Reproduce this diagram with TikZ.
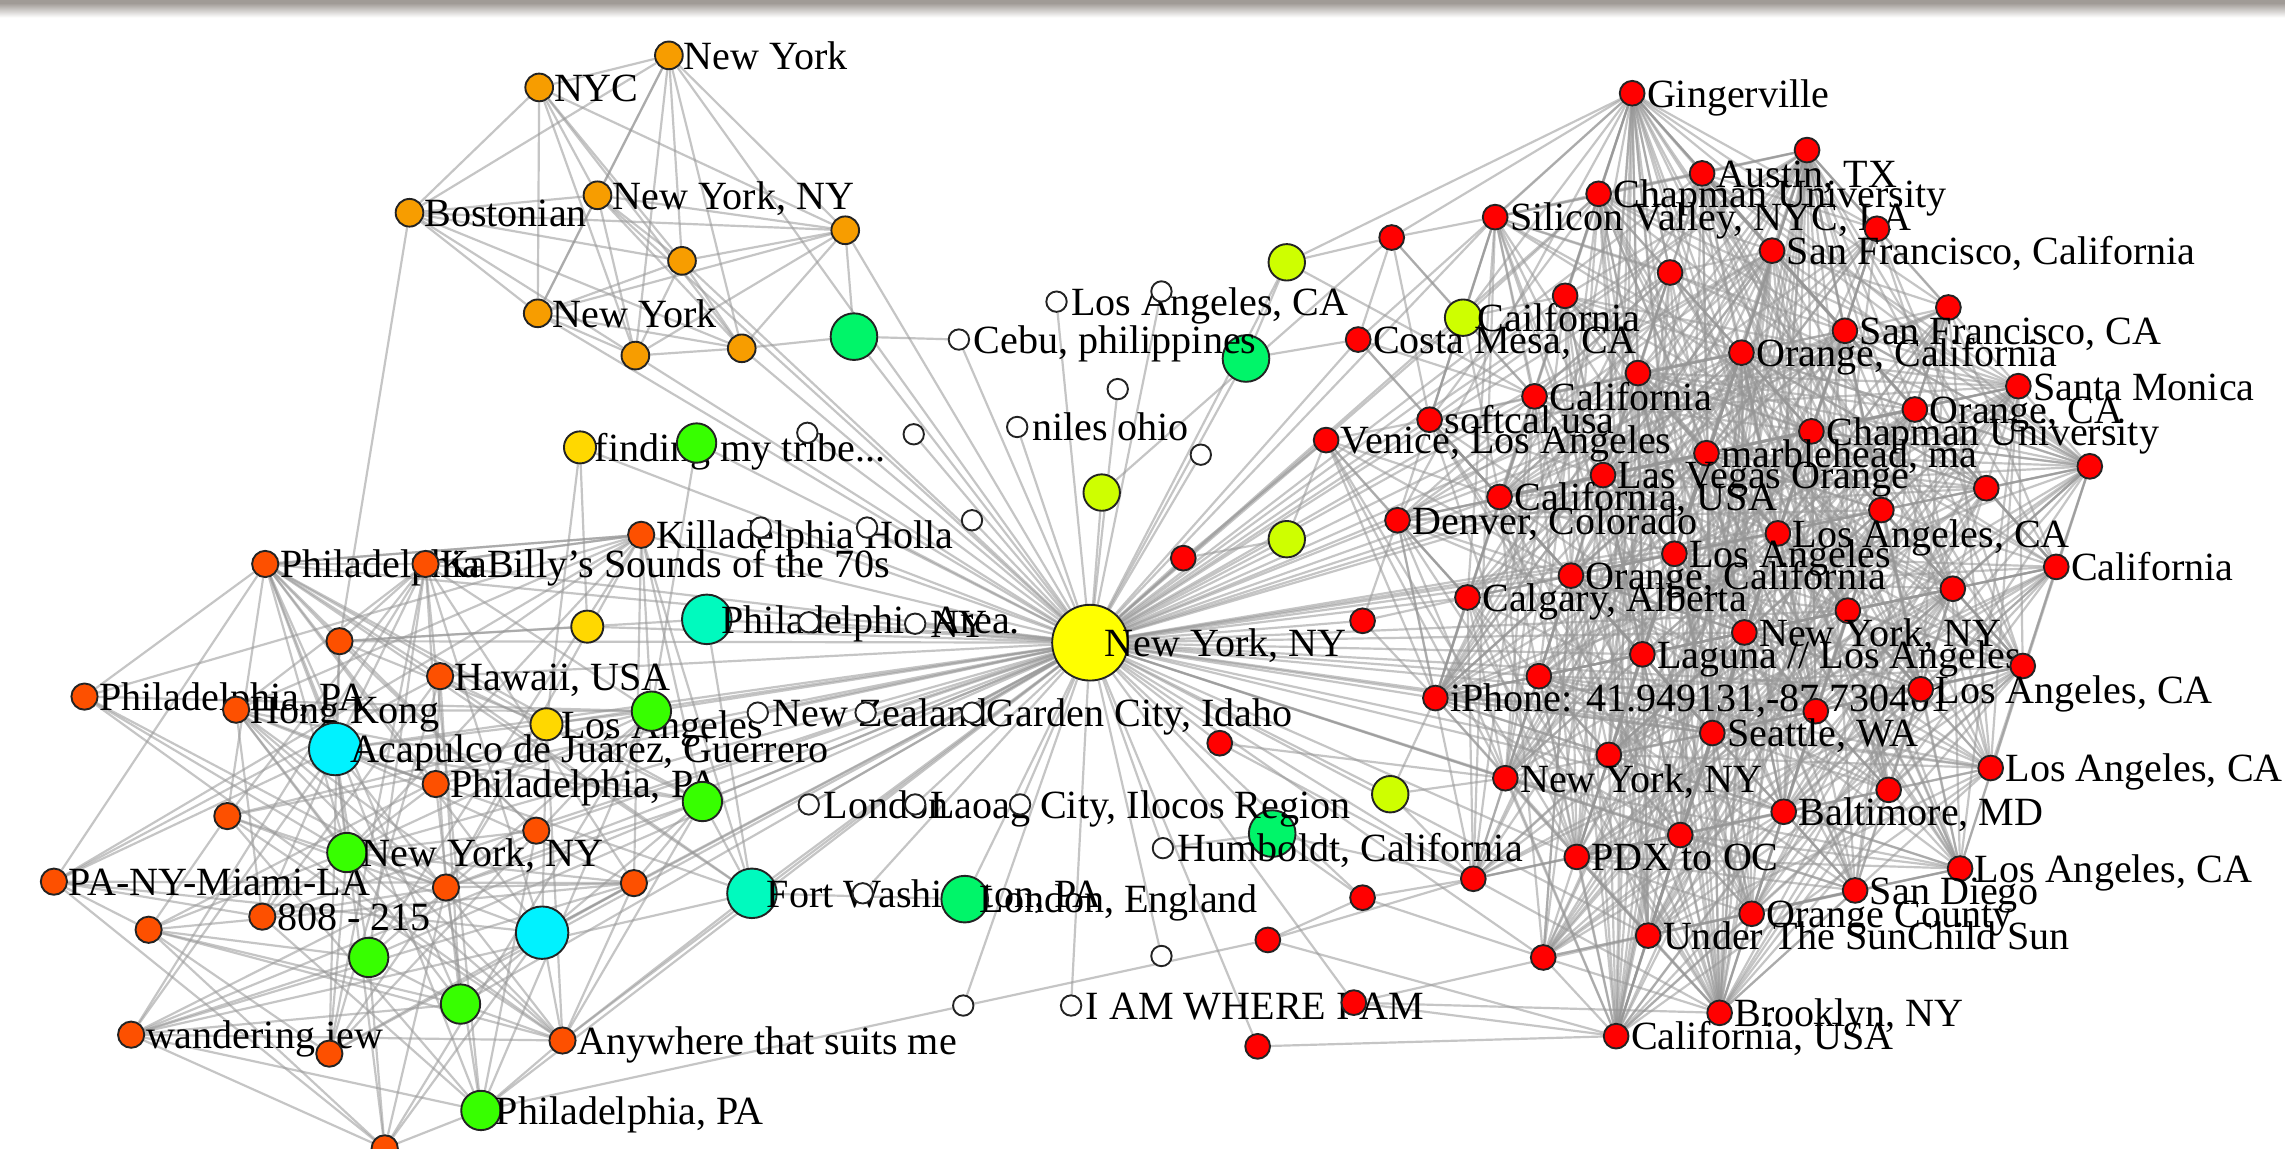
\documentclass[tikz,border=0pt]{standalone}
\usepackage{fontspec}
\setmainfont{Liberation Serif}
\pgfdeclarelayer{bg}
\pgfsetlayers{bg,main}
\definecolor{cRed}{RGB}{255,0,0}
\definecolor{cOrRed}{RGB}{253,80,0}
\definecolor{cOrange}{RGB}{247,157,0}
\definecolor{cYel}{RGB}{255,216,0}
\definecolor{cHub}{RGB}{255,255,0}
\definecolor{cYG}{RGB}{206,255,0}
\definecolor{cGreen}{RGB}{55,255,0}
\definecolor{cSpring}{RGB}{0,245,105}
\definecolor{cAqua}{RGB}{0,250,190}
\definecolor{cCyan}{RGB}{0,242,255}
\definecolor{cBorder}{RGB}{35,35,35}
\definecolor{cEdge}{RGB}{150,150,150}
\definecolor{cTop}{RGB}{160,155,150}
\tikzset{
  base/.style={circle, draw=cBorder, line width=1.3pt, inner sep=0pt},
  rd/.style={base, fill=cRed, minimum size=17pt},
  ow/.style={base, fill=cOrRed, minimum size=18pt},
  og/.style={base, fill=cOrange, minimum size=19pt},
  wt/.style={base, fill=white, minimum size=14pt},
  yl/.style={base, fill=cYel, minimum size=22pt},
  gr/.style={base, fill=cGreen, minimum size=27pt},
  sg/.style={base, fill=cSpring, minimum size=32pt},
  aq/.style={base, fill=cAqua, minimum size=34pt},
  cy/.style={base, fill=cCyan, minimum size=36pt},
  yg/.style={base, fill=cYG, minimum size=25pt},
  hub/.style={base, fill=cHub, minimum size=52pt},
  lab/.style={anchor=base west, inner sep=0pt, font=\fontsize{27.5}{30}\selectfont, text=black},
  edge/.style={draw=cEdge, line width=1.5pt, draw opacity=0.55},
}
\newcommand\nl[5]{\node[#1] (#2) at (#3,-#4) {}; \node[lab] at ([xshift=10pt,yshift=-9.5pt]#2.center) {#5};}
\newcommand\nn[4]{\node[#1] (#2) at (#3,-#4) {};}
\newcommand\pickval[2]{\the\numexpr (#1*#1*13+#2*#2*7+#1*#2*3+#2) - 17*((#1*#1*13+#2*#2*7+#1*#2*3+#2-8)/17)\relax}
\begin{document}
\begin{tikzpicture}[x=1pt,y=1pt]
\useasboundingbox (0,0) rectangle (1568,-788);

% ---------- orange cluster
\nl{og}{o1}{459}{38}{New York}
\nl{og}{o2}{370}{60}{NYC}
\nl{og}{o3}{281}{146}{Bostonian}
\nl{og}{o4}{410}{134}{New York, NY}
\nn{og}{o5}{580}{158}
\nn{og}{o6}{468}{179}
\nl{og}{o7}{369}{215}{New York}
\nn{og}{o8}{436}{244}
\nn{og}{o9}{509}{239}

% ---------- orange-red cluster
\nl{ow}{p1}{182}{387}{Philadelphia}
\nl{ow}{p2}{292}{387}{KaBilly's Sounds of the 70s}
\nl{ow}{p3}{440}{367}{Killadelphia Holla}
\nn{ow}{p4}{233}{440}
\nl{ow}{p5}{302}{464}{Hawaii, USA}
\nl{ow}{p6}{58}{478}{Philadelphia, PA}
\nl{ow}{p7}{162}{487}{Hong Kong}
\nl{ow}{p8}{299}{538}{Philadelphia, PA}
\nn{ow}{p9}{156}{560}
\nn{ow}{p10}{368}{570}
\nl{ow}{p11}{37}{605}{PA-NY-Miami-LA}
\nn{ow}{p12}{306}{609}
\nn{ow}{p13}{435}{606}
\nl{ow}{p14}{180}{629}{808 - 215}
\nn{ow}{p15}{102}{638}
\nl{ow}{p16}{90}{710}{wandering jew}
\nn{ow}{p17}{226}{723}
\nl{ow}{p18}{386}{714}{Anywhere that suits me}
\nn{ow}{p19}{264}{788}

% ---------- yellow, green, cyan, aqua
\nl{yl}{y1}{398}{307}{finding my tribe...}
\nn{yl}{y2}{403}{430}
\nl{yl}{y3}{375}{497}{Los Angeles}
\nn{gr}{g1}{478}{304}
\nn{gr}{g2}{447}{488}
\nn{gr}{g3}{482}{550}
\nl{gr}{g4}{238}{585}{New York, NY}
\nn{gr}{g5}{253}{657}
\nn{gr}{g6}{316}{689}
\nl{gr}{g7}{330}{762}{Philadelphia, PA}
\nn{sg}{s1}{586}{231}
\nn{sg}{s2}{855}{246}
\nn{sg}{s4}{873}{572}
\nl{aq}{a1}{485}{425}{Philadelphia Area.}
\nl{aq}{a2}{516}{613}{Fort Washington, PA}
\nl{cy}{c1}{230}{514}{Acapulco de Juárez, Guerrero}
\nn{cy}{c2}{372}{640}
\nn{yg}{v1}{883}{180}
\nl{yg}{v2}{1004}{218}{Cailfornia}
\nn{yg}{v3}{756}{338}
\nn{yg}{v4}{883}{370}
\nn{yg}{v5}{954}{545}

% ---------- white nodes
\nl{wt}{w1}{725}{207}{Los Angeles, CA}
\nn{wt}{w2}{797}{200}
\nl{wt}{w3}{658}{233}{Cebu, philippines}
\nn{wt}{w4}{767}{267}
\nn{wt}{w5}{627}{298}
\nn{wt}{w6}{554}{297}
\nl{wt}{w7}{698}{293}{niles ohio}
\nn{wt}{w8}{824}{312}
\nn{wt}{w9}{522}{362}
\nn{wt}{w10}{595}{362}
\nn{wt}{w11}{667}{357}
\nn{wt}{w12}{555}{427}
\nl{wt}{w13}{628}{428}{NY}
\nl{wt}{w14}{520}{489}{New Zealand}
\nn{wt}{w15}{594}{489}
\nl{wt}{w16}{667}{489}{Garden City, Idaho}
\nl{wt}{w17}{555}{552}{London}
\nl{wt}{w18}{628}{552}{Laoag City, Ilocos Region}
\nn{wt}{w19}{700}{552}
\nl{wt}{w20}{798}{582}{Humboldt, California}
\nn{wt}{w21}{592}{613}
\nn{wt}{w22}{797}{656}
\nn{wt}{w23}{661}{690}
\nl{wt}{w24}{735}{690}{I AM WHERE I AM}
\nl{sg}{s3}{662}{617}{London, England}

% ---------- red cluster
\nl{rd}{r1}{1120}{64}{Gingerville}
\nn{rd}{r2}{1240}{103}
\nl{rd}{r3}{1168}{119}{Austin, TX}
\nl{rd}{r4}{1097}{133}{Chapman University}
\nl{rd}{r5}{1026}{149}{Silicon Valley, NYC, LA}
\nn{rd}{r6}{1288}{157}
\nn{rd}{r7}{955}{163}
\nl{rd}{r8}{1216}{172}{San Francisco, California}
\nn{rd}{r9}{1146}{187}
\nn{rd}{r10}{1074}{203}
\nn{rd}{r11}{1337}{211}
\nl{rd}{r12}{1266}{227}{San Francisco, CA}
\nl{rd}{r13}{932}{233}{Costa Mesa, CA}
\nl{rd}{r14}{1195}{242}{Orange, California}
\nn{rd}{r15}{1124}{256}
\nl{rd}{r16}{1053}{272}{California}
\nl{rd}{r17}{1385}{265}{Santa Monica}
\nl{rd}{r18}{1314}{281}{Orange, CA}
\nl{rd}{r19}{981}{288}{softcal usa}
\nl{rd}{r20}{1243}{296}{Chapman University}
\nl{rd}{r21}{910}{302}{Venice, Los Angeles}
\nl{rd}{r22}{1171}{311}{marblehead, ma}
\nn{rd}{r23}{1434}{320}
\nl{rd}{r24}{1100}{326}{Las Vegas Orange}
\nn{rd}{r25}{1363}{335}
\nl{rd}{r26}{1029}{341}{California, USA}
\nn{rd}{r27}{1291}{350}
\nl{rd}{r28}{959}{357}{Denver, Colorado}
\nl{rd}{r29}{1220}{366}{Los Angeles, CA}
\nn{rd}{r30}{812}{383}
\nl{rd}{r31}{1149}{380}{Los Angeles}
\nl{rd}{r32}{1411}{389}{California}
\nl{rd}{r33}{1078}{395}{Orange, California}
\nn{rd}{r34}{1340}{404}
\nl{rd}{r35}{1007}{410}{Calgary, Alberta}
\nn{rd}{r36}{1268}{419}
\nn{rd}{r37}{935}{426}
\nl{rd}{r38}{1197}{434}{New York, NY}
\nl{rd}{r39}{1127}{449}{Laguna // Los Angeles}
\nn{rd}{r40}{1388}{457}
\nn{rd}{r41}{1056}{464}
\nl{rd}{r42}{985}{479}{iPhone: 41.949131,-87.730401}
\nl{rd}{r43}{1318}{473}{Los Angeles, CA}
\nn{rd}{r44}{1246}{488}
\nl{rd}{r45}{1175}{503}{Seattle, WA}
\nn{rd}{r46}{837}{510}
\nl{rd}{r47}{1366}{527}{Los Angeles, CA}
\nn{rd}{r48}{1104}{518}
\nl{rd}{r49}{1033}{534}{New York, NY}
\nn{rd}{r50}{1296}{542}
\nl{rd}{r51}{1224}{557}{Baltimore, MD}
\nn{rd}{r52}{1153}{573}
\nl{rd}{r53}{1082}{588}{PDX to OC}
\nn{rd}{r54}{1011}{603}
\nl{rd}{r55}{1345}{596}{Los Angeles, CA}
\nl{rd}{r56}{1273}{611}{San Diego}
\nn{rd}{r57}{935}{616}
\nl{rd}{r58}{1202}{627}{Orange County}
\nl{rd}{r59}{1131}{642}{Under The SunChild Sun}
\nn{rd}{r60}{870}{645}
\nn{rd}{r61}{1059}{657}
\nl{rd}{r62}{1180}{695}{Brooklyn, NY}
\nn{rd}{r63}{929}{688}
\nl{rd}{r64}{1109}{711}{California, USA}
\nn{rd}{r65}{863}{718}

% ---------- hub
\nl{hub}{ny}{748}{441}{New York, NY}

% ================= background and edges
\begin{pgfonlayer}{bg}
\fill[white] (0,0) rectangle (1568,-788);
\shade[top color=cTop, bottom color=white] (0,-2) rectangle (1568,-12);
\fill[cTop] (0,0) rectangle (1568,-3);
% orange cluster: all pairs
\foreach \i in {1,...,9}{\foreach \j in {1,...,9}{\ifnum\j>\i \draw[edge] (o\i)--(o\j);\fi}}
\foreach \k in {o1,o4,o5,o6,o7,o8,o9} \draw[edge] (ny)--(\k);
\draw[edge] (o3)--(p4);
\draw[edge] (o5)--(s1);
\draw[edge] (o9)--(s1);
% left cluster: pseudo-random
\def\leftlist{p1,p2,p3,p4,p5,p6,p7,p8,p9,p10,p11,p12,p13,p14,p15,p16,p17,p18,p19,c1,c2,g3,g4,g5,g6,g7,y3,a2,g2}
\foreach \a [count=\i] in \leftlist {\foreach \b [count=\j] in \leftlist {\ifnum\j>\i
  \edef\m{\pickval{\i}{\j}}%
  \ifnum\m<6 \draw[edge] (\a)--(\b);\fi\fi}}
% hub to the left
\foreach \k in {y1,y2,y3,g1,g2,g3,g4,g5,g6,g7,s1,s3,a1,a2,c1,c2,p1,p2,p3,p4,p5,p8,p10,p12,p13,p14,p16,p18,p9,p17}
  \draw[edge] (ny)--(\k);
\foreach \k in {1,...,24} \draw[edge] (ny)--(w\k);
\draw[edge] (y1)--(y2); \draw[edge] (y1)--(y3); \draw[edge] (g1)--(g2);
\draw[edge] (a1)--(a2); \draw[edge] (s1)--(w3); \draw[edge] (p1)--(p2);
\draw[edge] (p1)--(p3); \draw[edge] (p2)--(p3); \draw[edge] (p4)--(y2);
\draw[edge] (p4)--(a1); \draw[edge] (s3)--(a2);
% hub to the right
\foreach \k in {v1,v2,v3,v4,v5,s2,s4} \draw[edge] (ny)--(\k);
\foreach \k in {2,3,4,5,8,10,12,13,14,16,19,20,21,22,24,26,27,28,29,30,31,33,35,36,37,38,39,41,42,44,45,46,48,49,51,52,53,54,57,59,61,63,65,9,15,43,47,56}
  \draw[edge] (ny)--(r\k);
% red cluster: pseudo-random
\def\corelist{1,2,3,4,5,6,8,9,10,11,12,14,15,16,17,18,19,20,22,23,24,25,26,27,28,29,31,32,33,34,35,36,38,39,40,41,42,43,44,45,47,48,49,50,51,52,53,54,55,56,58,59,61,62,64}
\foreach \a [count=\i] in \corelist {\foreach \b [count=\j] in \corelist {\ifnum\j>\i
  \edef\m{\pickval{\i}{\j}}%
  \ifnum\m<8 \draw[edge] (r\a)--(r\b);\fi\fi}}
% peripheral links
\foreach \a/\b in {g7/r60, r60/r54, r63/r62, r65/r64, r63/r64, r57/r54, r57/r61, r57/s4, r60/r57,
  s4/w20, s4/r54, v5/r49, v5/r54, v5/r42, r46/r49, r46/r54, r30/r21, r30/v4, r37/r28, r37/r42,
  r37/r35, r7/v1, r7/r5, r7/r13, r7/r19, r7/r16, r7/r1, r13/r16, r13/r19, r13/r26, r13/s2,
  r21/r28, r21/r35, r21/r42, r21/r49, r21/r53, r21/r19, r21/r26, r21/r33, v1/s2, v1/r16,
  v2/r5, v2/r7, v2/r16, v2/r19, v2/r26, v2/r10, v2/r1, v2/r4, v3/r7, v4/r21, r1/v1, r1/r13,
  r60/r64, r63/r59}
  \draw[edge] (\a)--(\b);
\end{pgfonlayer}
\end{tikzpicture}
\end{document}
